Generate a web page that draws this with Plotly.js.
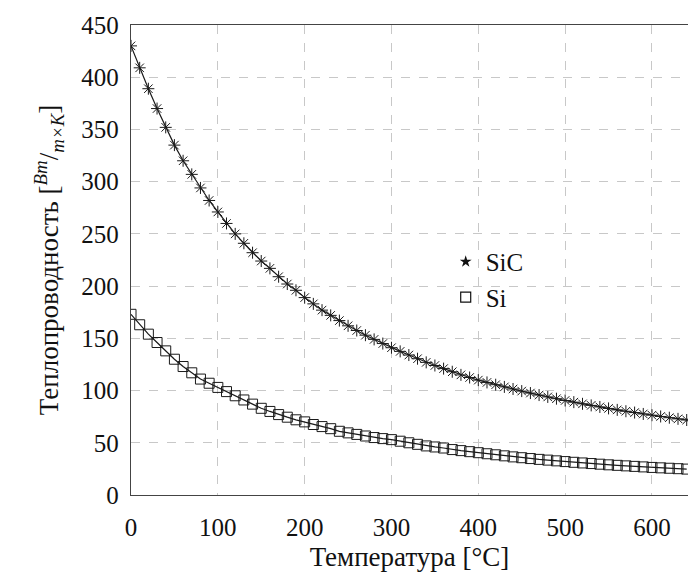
<!DOCTYPE html>
<html>
<head>
<meta charset="utf-8">
<script src="https://cdn.plot.ly/plotly-3.0.1.min.js"></script>
<style>html,body{margin:0;padding:0;background:#fff;}#chart{width:688px;height:573px;}</style>
</head>
<body>
<div id="chart"></div>
<script>
// Temperature, °C (markers every 10 degrees)
const temperature = [0,10,20,30,40,50,60,70,80,90,100,110,120,130,140,150,160,170,180,190,200,
  210,220,230,240,250,260,270,280,290,300,310,320,330,340,350,360,370,380,390,400,
  410,420,430,440,450,460,470,480,490,500,510,520,530,540,550,560,570,580,590,600,
  610,620,630,640];

// SiC thermal conductivity
const sicValues = [430,409,389,370,352,335,320,307,294,282,271,260,250,241,232,224,217,209,202,196,189,
  183,177,172,167,162,157.5,153,149,145,141,137.5,134,130.5,127,124,121,118,115,112.5,110,
  107.8,105.6,103.5,101.5,99.5,97.6,95.7,93.9,92.2,90.5,88.9,87.3,85.8,84.3,82.9,81.5,80.2,78.9,77.6,76.4,
  75.2,74,72.9,71.8];

// Si thermal conductivity
const siValues = [173,163,154,146,138,130,123,117,111,107,103,99,95,91,87,83,80,77,74.5,72,70,
  67.5,65.5,63.5,61,59.5,58,56.5,55,54,53,51.5,50,48.5,47,46,45,43.5,42.5,41.5,40.5,
  39.5,38.5,37.5,36.5,35.7,34.9,34.1,33.4,32.7,32,31.3,30.7,30.1,29.5,28.9,28.4,27.9,27.4,26.9,26.4,
  26,25.6,25.2,24.8];

const seriesNames = ['SiC', 'Si'];
const xTicks = [0,100,200,300,400,500,600];
const yTicks = [0,50,100,150,200,250,300,350,400,450];

const serif = 'Liberation Serif, DejaVu Serif, serif';

const traces = [
  {x: temperature, y: sicValues, mode: 'lines+markers', name: seriesNames[0], showlegend: false,
   line: {color: '#1a1a1a', width: 1.2},
   marker: {symbol: 'asterisk-open', size: 10, color: '#1a1a1a', line: {width: 1, color: '#1a1a1a'}},
   cliponaxis: true},
  {x: temperature, y: siValues, mode: 'lines+markers', name: seriesNames[1], showlegend: false,
   line: {color: '#1a1a1a', width: 1.2},
   marker: {symbol: 'square-open', size: 10, color: '#1a1a1a', line: {width: 1, color: '#1a1a1a'}},
   cliponaxis: true},
  // legend-only entries (marks only, as in the reference legend)
  {x: [null], y: [null], mode: 'markers', name: seriesNames[0],
   marker: {symbol: 'star', size: 9, color: '#111'}},
  {x: [null], y: [null], mode: 'markers', name: seriesNames[1],
   marker: {symbol: 'square-open', size: 10, color: '#111', line: {width: 1.2, color: '#111'}}}
];

const fnt = (s) => ({family: serif, size: s, color: '#111'});

const layout = {
  width: 688, height: 573,
  margin: {l: 131, r: 0, t: 25, b: 78},
  paper_bgcolor: '#fff', plot_bgcolor: '#fff',
  font: fnt(25),
  showlegend: true,
  legend: {x: 0.565, y: 0.545, xanchor: 'left', yanchor: 'top', bgcolor: 'rgba(0,0,0,0)',
           font: fnt(25), itemwidth: 30, tracegroupgap: 0},
  xaxis: {
    range: [0, 641.5], tickvals: xTicks, ticktext: xTicks.map(String),
    showline: true, linecolor: '#444', linewidth: 1.3, mirror: true,
    showgrid: true, gridcolor: '#c8c8c8', gridwidth: 1, griddash: 'dash',
    zeroline: false, ticks: 'outside', ticklen: 10, tickcolor: 'rgba(0,0,0,0)',
    tickfont: fnt(25),
    title: {text: 'Температура [°C]', font: fnt(27), standoff: 6}
  },
  yaxis: {
    range: [0, 450], tickvals: yTicks, ticktext: yTicks.map(String),
    showline: true, linecolor: '#444', linewidth: 1.3,
    showgrid: true, gridcolor: '#c8c8c8', gridwidth: 1, griddash: 'dash',
    zeroline: false, ticks: 'outside', ticklen: 6, tickcolor: 'rgba(0,0,0,0)',
    tickfont: fnt(25),
    title: {text: 'Теплопроводность [<sup><i>Bm</i></sup>/<sub><i>m×K</i></sub>]',
            font: fnt(27), standoff: 14}
  }
};

Plotly.newPlot('chart', traces, layout, {displayModeBar: false, staticPlot: true});
</script>
</body>
</html>
